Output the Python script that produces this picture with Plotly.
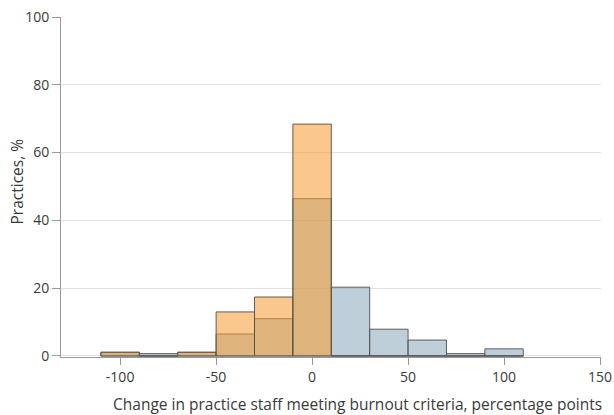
import plotly.graph_objects as go

# Bin centers (percentage-point change), bin width 20
bin_centers = [-100, -80, -60, -40, -20, 0, 20, 40, 60, 80, 100]
# Series shown in blue-gray (values in % of practices)
blue_values = [1.1, 0.7, 1.1, 6.5, 11.0, 46.4, 20.3, 7.9, 4.7, 0.7, 2.1]
# Series shown in orange
orange_values = [1.1, 0, 1.1, 13.0, 17.4, 68.4, 0, 0, 0, 0, 0]

x_ticks = [-100, -50, 0, 50, 100, 150]
x_tick_labels = ["-100", "-50", "0", "50", "100", "150"]
y_ticks = [0, 20, 40, 60, 80, 100]

FONT = "Open Sans"
TXT = "#3a3a3a"
line_col = "rgba(80,80,80,0.9)"

fig = go.Figure()
fig.add_trace(go.Bar(
    x=bin_centers, y=blue_values, width=20,
    marker=dict(color="rgba(141,171,190,0.57)", line=dict(color=line_col, width=1)),
    showlegend=False,
))
fig.add_trace(go.Bar(
    x=bin_centers, y=orange_values, width=20,
    marker=dict(color="rgba(246,158,53,0.57)", line=dict(color=line_col, width=1)),
    showlegend=False,
))

fig.update_layout(
    template="none",
    width=614, height=415,
    margin=dict(l=61, r=13, t=17, b=58),
    barmode="overlay",
    plot_bgcolor="white", paper_bgcolor="white",
    font=dict(family=FONT, size=14, color=TXT),
    xaxis=dict(
        automargin=False,
        range=[-130.8, 150.5],
        tickmode="array", tickvals=x_ticks, ticktext=x_tick_labels,
        ticks="outside", ticklen=7, tickcolor="#999", tickwidth=1,
        showline=True, linecolor="#999", linewidth=1,
        showgrid=False, zeroline=False,
        tickfont=dict(size=14, color=TXT),
    ),
    yaxis=dict(
        automargin=False,
        range=[-0.3, 100],
        tickmode="array", tickvals=y_ticks,
        ticks="outside", ticklen=8, tickcolor="#999", tickwidth=1,
        showline=True, linecolor="#999", linewidth=1,
        showgrid=True, gridcolor="#e2e2e2", gridwidth=1,
        zeroline=False,
        tickfont=dict(size=14, color=TXT),
    ),
    annotations=[
        dict(
            text="Change in practice staff meeting burnout criteria, percentage points",
            xref="paper", yref="paper", x=(357 - 61) / 540, y=0,
            yshift=-47, xanchor="center", yanchor="middle",
            showarrow=False, font=dict(size=15.5, color=TXT),
        ),
        dict(
            text="Practices, %", textangle=-90,
            xref="paper", yref="paper", x=0, y=(357 - 181.5) / 340,
            xshift=17 - 61, xanchor="center", yanchor="middle",
            showarrow=False, font=dict(size=15.5, color=TXT),
        ),
    ],
)

fig.write_html(
    "out.html",
    config={"displayModeBar": False},
    post_script="document.body.style.margin='0';document.body.style.overflow='hidden';",
)
